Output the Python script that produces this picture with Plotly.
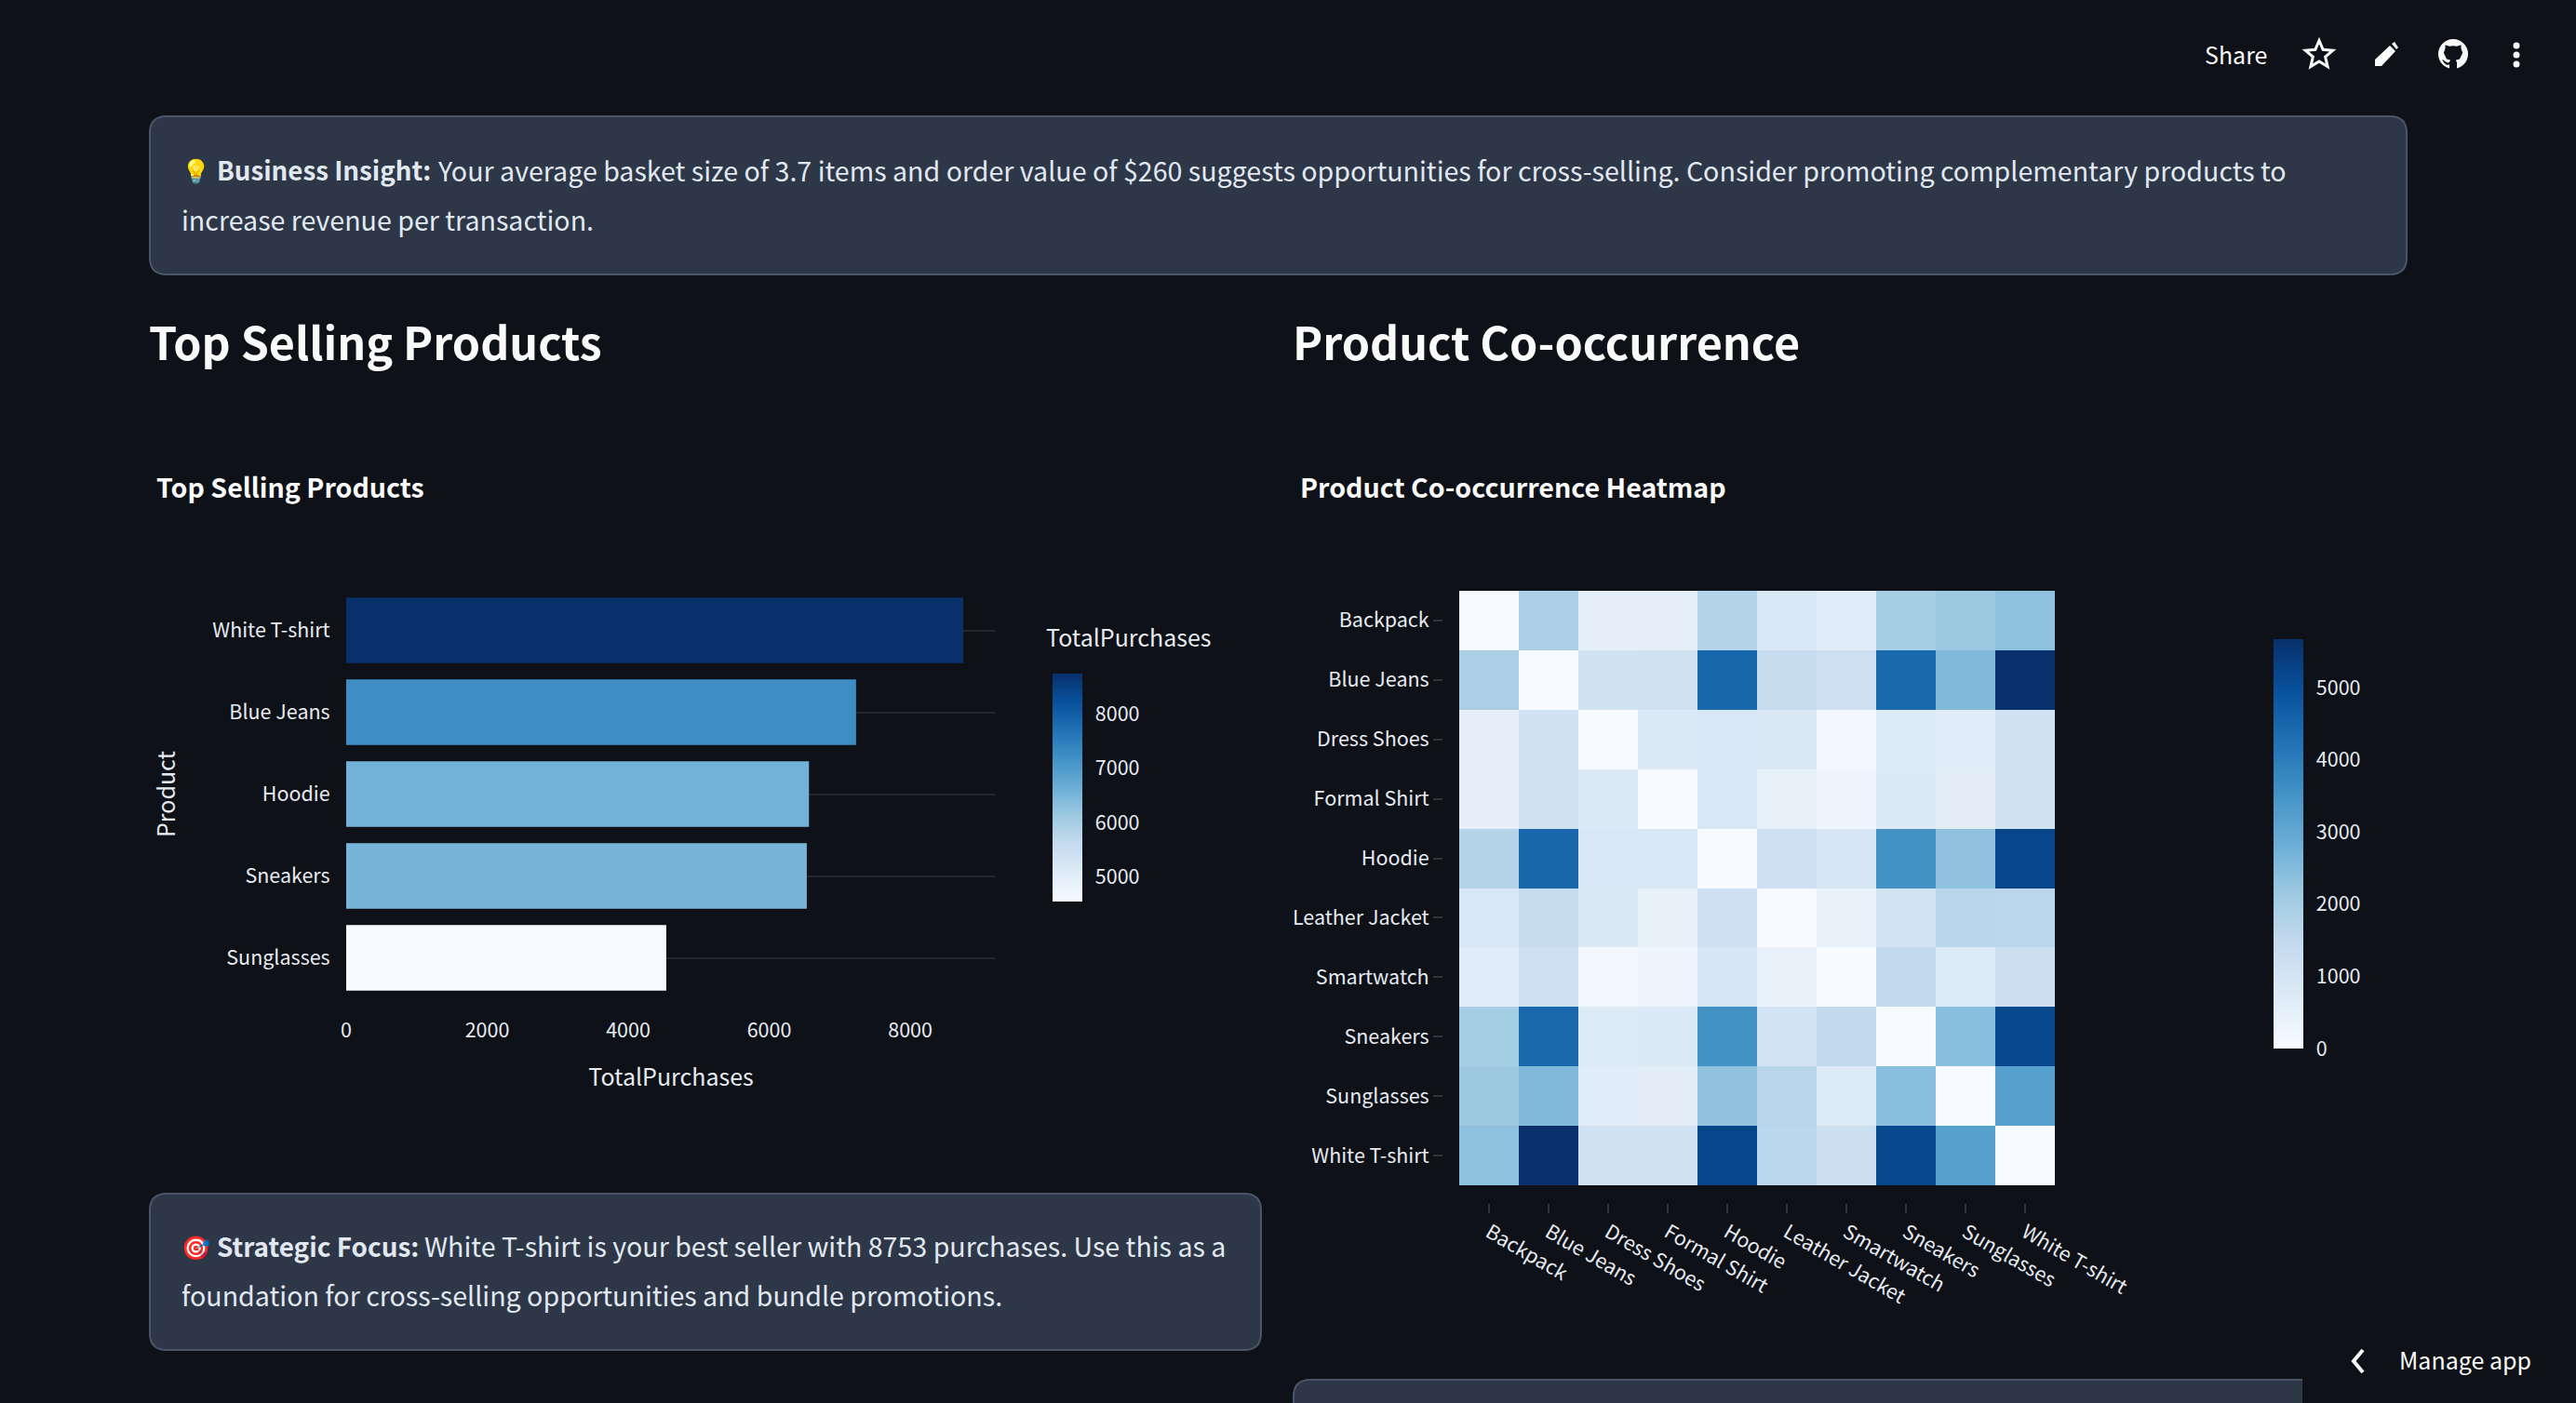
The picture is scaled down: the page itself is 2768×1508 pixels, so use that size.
import math
import plotly.graph_objects as go

W = 2768
H = 1508
FONT = "Noto Sans CJK SC"
BG = "#0E1117"
CARD = "#2D3748"
CARD_LINE = "#4A5568"
TEXT = "#E2E8F0"
TICK = "#E6EAF1"
WHITE = "#FAFAFA"

top_products = ["White T-shirt", "Blue Jeans", "Hoodie", "Sneakers", "Sunglasses"]
top_purchases = [8753, 7232, 6564, 6533, 4540]

products = ["Backpack", "Blue Jeans", "Dress Shoes", "Formal Shirt", "Hoodie",
            "Leather Jacket", "Smartwatch", "Sneakers", "Sunglasses", "White T-shirt"]

cooccurrence = [
    [0, 1900, 550, 550, 1700, 900, 650, 2000, 2150, 2350],
    [1900, 0, 1100, 1130, 4500, 1400, 1220, 4450, 2550, 5670],
    [550, 1100, 0, 800, 900, 820, 170, 750, 650, 1100],
    [550, 1130, 800, 0, 900, 450, 250, 780, 600, 1080],
    [1700, 4500, 900, 900, 0, 1180, 950, 3534, 2320, 5200],
    [900, 1400, 820, 450, 1180, 0, 400, 1050, 1650, 1600],
    [650, 1220, 170, 250, 950, 400, 0, 1480, 750, 1250],
    [2000, 4450, 750, 780, 3534, 1050, 1480, 0, 2420, 5150],
    [2150, 2550, 650, 600, 2320, 1650, 750, 2420, 0, 3200],
    [2350, 5670, 1100, 1080, 5200, 1600, 1250, 5150, 3200, 0],
]

bar_ticks = [5000, 6000, 7000, 8000]
heat_ticks = [0, 1000, 2000, 3000, 4000, 5000]


def px(x):
    return x / W


def py(y):
    return 1 - y / H


def path(points, close=True):
    s = "M " + " L ".join(f"{px(a):.5f},{py(b):.5f}" for a, b in points)
    return s + (" Z" if close else "")


def card(x0, y0, x1, y1, r=18):
    # rounded box, drawn through paper coords
    c = [
        f"M {px(x0 + r):.5f},{py(y0):.5f}",
        f"L {px(x1 - r):.5f},{py(y0):.5f}",
        f"Q {px(x1):.5f},{py(y0):.5f} {px(x1):.5f},{py(y0 + r):.5f}",
        f"L {px(x1):.5f},{py(y1 - r):.5f}",
        f"Q {px(x1):.5f},{py(y1):.5f} {px(x1 - r):.5f},{py(y1):.5f}",
        f"L {px(x0 + r):.5f},{py(y1):.5f}",
        f"Q {px(x0):.5f},{py(y1):.5f} {px(x0):.5f},{py(y1 - r):.5f}",
        f"L {px(x0):.5f},{py(y0 + r):.5f}",
        f"Q {px(x0):.5f},{py(y0):.5f} {px(x0 + r):.5f},{py(y0):.5f} Z",
    ]
    return dict(type="path", xref="paper", yref="paper", path=" ".join(c), layer="below",
                fillcolor=CARD, line=dict(color=CARD_LINE, width=2))


def blob(points, fill=WHITE, line=None, width=0):
    return dict(type="path", xref="paper", yref="paper", path=path(points), fillcolor=fill,
                line=dict(color=line or fill, width=width))


def circle(cx, cy, r, fill=WHITE):
    return dict(type="circle", xref="paper", yref="paper", x0=px(cx - r), x1=px(cx + r),
                y0=py(cy + r), y1=py(cy - r), fillcolor=fill, line=dict(width=0))


def label(x, y, text, size, color=TEXT, anchor="left"):
    return dict(x=px(x), y=py(y), xref="paper", yref="paper", text=text, showarrow=False,
                xanchor=anchor, yanchor="middle", borderpad=0,
                font=dict(family=FONT, size=size, color=color))


star = []
for i in range(10):
    rad = 15.5 if i % 2 == 0 else 7
    a = -math.pi / 2 + i * math.pi / 5
    star.append((2492 + rad * math.cos(a), 59 + rad * math.sin(a)))

cat = [(6.0, 16.5), (6.0, 13.7), (4.5, 13.9), (3.3, 13.0), (2.5, 11.7), (2.0, 11.2), (2.6, 11.1),
       (3.7, 12.0), (5.0, 12.7), (6.0, 12.4), (6.5, 11.3), (4.5, 10.8), (2.9, 7.4), (3.7, 5.2),
       (3.8, 3.1), (6.0, 3.9), (8.0, 3.65), (10.0, 3.9), (12.2, 3.1), (12.3, 5.2), (13.1, 7.35),
       (11.5, 10.8), (9.5, 11.3), (10.0, 12.8), (10.0, 16.5)]
cat = [(2620 + a * 2, 42 + b * 2) for a, b in cat]

shapes = [
    card(161, 125, 2586, 295),
    card(161, 1283, 1355, 1451),
    card(1390, 1483, 2474 + 40, 1560),
    dict(type="rect", xref="paper", yref="paper", x0=px(2474), x1=1, y0=0, y1=py(1470),
         fillcolor=BG, line=dict(width=0), layer="below"),
    blob(star, fill=BG, line=WHITE, width=3),
    blob([(2552, 71), (2552, 64), (2568, 49), (2574, 55), (2559, 71)]),
    blob([(2570, 47), (2573, 45), (2577, 51), (2575, 53)]),
    circle(2636, 58, 16),
    blob(cat, fill=BG),
    circle(2704, 49, 3.5),
    circle(2704, 59, 3.5),
    circle(2704, 69, 3.5),
    dict(type="path", xref="paper", yref="paper",
         path=path([(2539, 1451), (2529, 1463), (2539, 1475)], close=False),
         line=dict(color=WHITE, width=4)),
]

annotations = [
    label(194, 182, "💡", 25),
    label(232, 182, "<b>Business Insight:</b>", 27.7),
    label(469, 182, "Your average basket size of 3.7 items and order value of $260 suggests "
                    "opportunities for cross-selling. Consider promoting complementary products to", 28.6),
    label(193.5, 235.5, "increase revenue per transaction.", 28.6),
    label(194, 1338.5, "🎯", 25),
    label(232, 1338.5, "<b>Strategic Focus:</b>", 27.9),
    label(455, 1338.5, "White T-shirt is your best seller with 8753 purchases. Use this as a", 28.6),
    label(193.5, 1391, "foundation for cross-selling opportunities and bundle promotions.", 28.6),
    label(158.5, 365.5, "<b>Top Selling Products</b>", 48.4, WHITE),
    label(1387.5, 365.5, "<b>Product Co-occurrence</b>", 48.4, WHITE),
    label(167, 522, "<b>Top Selling Products</b>", 28.6, WHITE),
    label(1396, 522, "<b>Product Co-occurrence Heatmap</b>", 28.6, WHITE),
    label(1123, 684.5, "TotalPurchases", 25, TICK),
    label(2367.5, 58, "Share", 25, WHITE),
    label(2577, 1461, "Manage app", 25, WHITE),
]

fig = go.Figure()

fig.add_trace(go.Bar(
    x=top_purchases, y=top_products, orientation="h", xaxis="x", yaxis="y",
    marker=dict(color=top_purchases, colorscale="Blues", showscale=True, line=dict(width=0),
                colorbar=dict(x=px(1131), xanchor="left", xpad=0, y=py(724), yanchor="top", ypad=0,
                              lenmode="pixels", len=245, thicknessmode="pixels", thickness=32,
                              outlinewidth=0, tickvals=bar_ticks, ticks="outside", ticklen=10,
                              tickcolor="rgba(0,0,0,0)", tickfont=dict(family=FONT, size=21.5, color=TICK))),
    showlegend=False,
))

fig.add_trace(go.Heatmap(
    z=cooccurrence, x=products, y=products, xaxis="x2", yaxis="y2",
    colorscale="Blues", zmin=0,
    colorbar=dict(x=px(2443), xanchor="left", xpad=0, y=py(687), yanchor="top", ypad=0,
                  lenmode="pixels", len=440, thicknessmode="pixels", thickness=32,
                  outlinewidth=0, tickvals=heat_ticks, ticks="outside", ticklen=10,
                  tickcolor="rgba(0,0,0,0)", tickfont=dict(family=FONT, size=21.5, color=TICK)),
))

fig.update_layout(
    width=W, height=H, margin=dict(l=0, r=0, t=0, b=0, autoexpand=False),
    paper_bgcolor=BG, plot_bgcolor=BG,
    font=dict(family=FONT, size=21.5, color=TICK),
    bargap=0.2,
    shapes=shapes, annotations=annotations,
    xaxis=dict(domain=[px(372), px(1070)], anchor="y", showgrid=False, zeroline=False, dtick=2000,
               ticks="outside", ticklen=15, tickcolor="rgba(0,0,0,0)", tickformat="d",
               title=dict(text="TotalPurchases", font=dict(size=25), standoff=29)),
    yaxis=dict(domain=[py(1073.5), py(633.5)], anchor="x", autorange="reversed", showgrid=True,
               gridcolor="#23262C", gridwidth=2, zeroline=False, ticks="outside", ticklen=12,
               tickcolor="rgba(0,0,0,0)",
               title=dict(text="Product", font=dict(size=25), standoff=32)),
    xaxis2=dict(domain=[px(1568), px(2208)], anchor="free", position=py(1293), showgrid=False,
                zeroline=False, ticks="outside", ticklen=10, tickcolor="#31343C", tickwidth=2,
                tickangle=30),
    yaxis2=dict(domain=[py(1274), py(635)], anchor="free", position=px(1550), autorange="reversed",
                showgrid=False, zeroline=False, ticks="outside", ticklen=10, tickcolor="#31343C",
                tickwidth=2),
)

fig.write_html("out.html", config=dict(displayModeBar=False),
               post_script="document.body.style.margin='0';document.body.style.overflow='hidden';")
